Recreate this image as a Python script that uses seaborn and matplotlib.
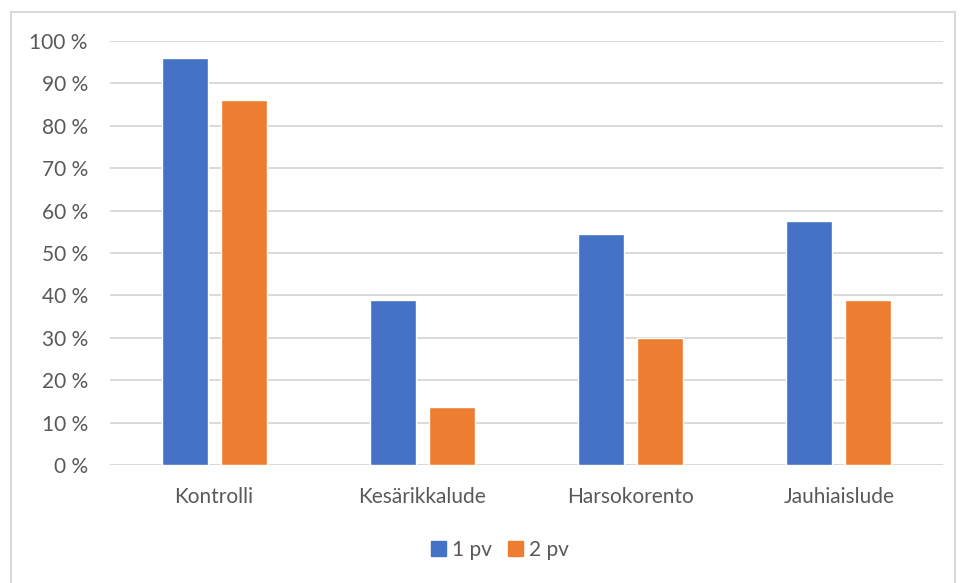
import matplotlib
matplotlib.use("Agg")
import matplotlib.pyplot as plt
from matplotlib.patches import Rectangle
from matplotlib.ticker import FuncFormatter, MultipleLocator
import seaborn as sns
import pandas as pd

categories = ["Kontrolli", "Kesärikkalude", "Harsokorento", "Jauhiaislude"]
series_names = ["1 pv", "2 pv"]
values_1pv = [96.0, 39.0, 54.5, 57.5]
values_2pv = [86.2, 13.6, 30.0, 38.8]
colors = ["#4472C4", "#ED7D31"]

df = pd.DataFrame({
    "category": categories * 2,
    "series": [series_names[0]] * 4 + [series_names[1]] * 4,
    "value": values_1pv + values_2pv,
})

sns.set_theme(style="white")
plt.rcParams["font.family"] = ["Lato", "DejaVu Sans"]
text_color = "#595959"

fig = plt.figure(figsize=(9.6, 5.83), dpi=100)
fig.patch.set_facecolor("white")
ax = fig.add_axes([110/960, 1 - 465/583, (943-110)/960, (465-41)/583])

sns.barplot(data=df, x="category", y="value", hue="series", palette=colors,
            width=0.567, gap=0.22, ax=ax, legend=False, saturation=1)

ax.set_ylim(0, 100)
ax.yaxis.set_major_locator(MultipleLocator(10))
ax.yaxis.set_major_formatter(FuncFormatter(lambda v, p: f"{int(round(v))} %"))
ax.grid(axis="y", color="#D9D9D9", linewidth=1.4)
ax.set_axisbelow(True)
for s in ax.spines.values():
    s.set_visible(False)
ax.set_xlabel("")
ax.set_ylabel("")
ax.tick_params(axis="both", length=0, labelsize=15, colors=text_color)
ax.tick_params(axis="x", pad=16)
ax.tick_params(axis="y", pad=16)

handles = [Rectangle((0, 0), 1, 1, color=c) for c in colors]
fig.legend(handles, series_names, loc="center", bbox_to_anchor=(500/960, 1 - 550/583),
           ncol=2, frameon=False, fontsize=15, handlelength=0.7, handleheight=0.7,
           handletextpad=0.3, columnspacing=0.8, labelcolor=text_color)

border = Rectangle((11/960, -0.05), (955-11)/960, 1 - 12/583 + 0.05,
                   transform=fig.transFigure, fill=False, edgecolor="#D9D9D9", linewidth=1.5)
fig.patches.append(border)

fig.savefig("out.png", dpi=100, facecolor="white")
